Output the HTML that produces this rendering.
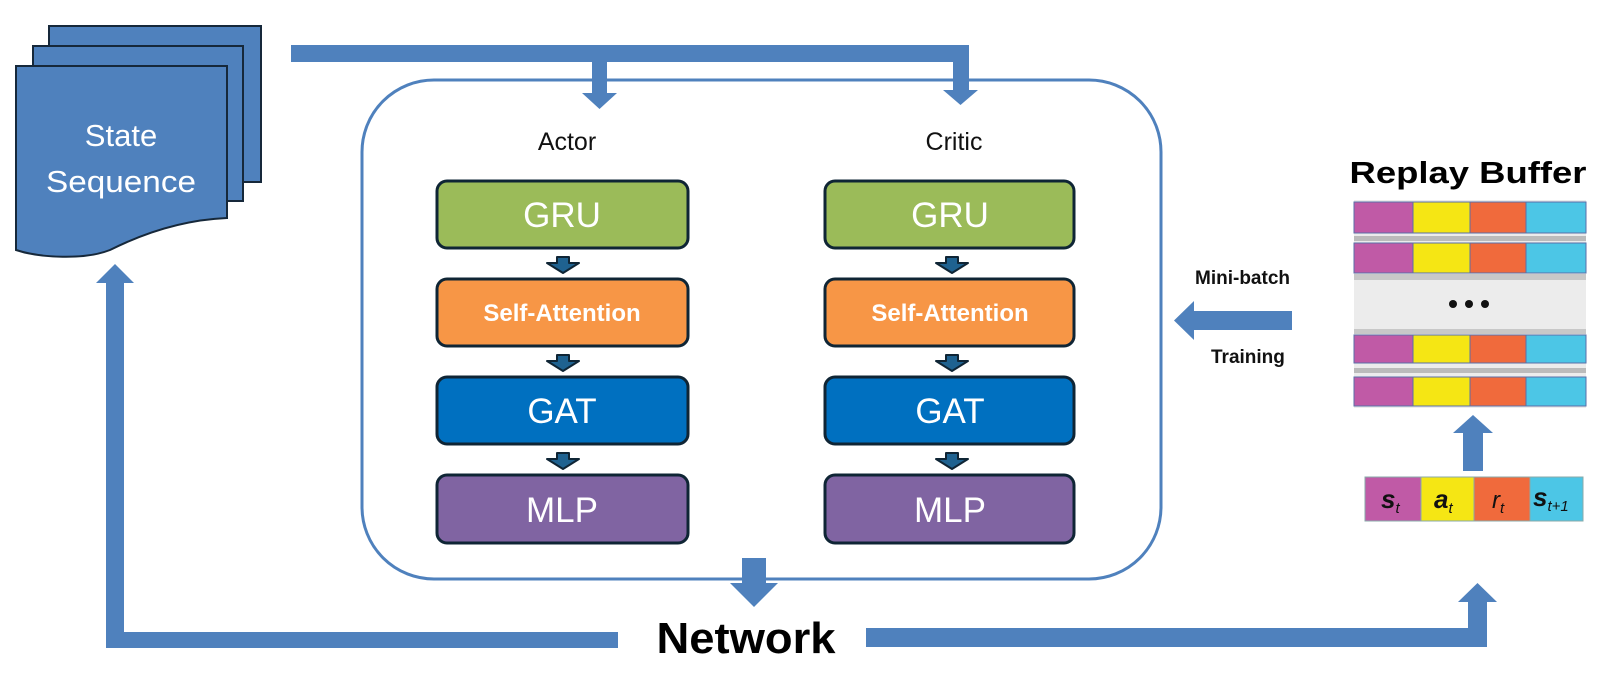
<!DOCTYPE html>
<html><head><meta charset="utf-8"><style>
html,body{margin:0;padding:0;background:#fff;}
svg{display:block;}
text{font-family:"Liberation Sans",sans-serif;}
</style></head><body>
<svg width="1622" height="689" viewBox="0 0 1622 689" xmlns="http://www.w3.org/2000/svg">
<!-- State sequence pages -->
<g fill="#4f81bd" stroke="#16283a" stroke-width="2">
<rect x="49" y="26" width="212" height="156"/>
<rect x="33" y="46" width="210" height="155"/>
<path d="M16 66 H227 V218 C180 220 140 235 110 250 C85 260 40 258 16 250 Z"/>
</g>
<text x="121" y="146" font-size="31" fill="#fff" text-anchor="middle">State</text>
<text x="121" y="192" font-size="31" fill="#fff" text-anchor="middle" textLength="150" lengthAdjust="spacingAndGlyphs">Sequence</text>

<!-- top connector -->
<g fill="#4f81bd">
<rect x="291" y="45" width="678" height="17"/>
<rect x="592" y="55" width="15" height="39"/>
<polygon points="582,93 617,93 599.5,109"/>
<rect x="953" y="55" width="16" height="36"/>
<polygon points="943,90 978,90 960.5,105"/>
</g>

<!-- container -->
<rect x="362" y="80" width="799" height="499" rx="72" ry="72" fill="none" stroke="#4f81bd" stroke-width="3"/>

<text x="567" y="150" font-size="25" fill="#111" text-anchor="middle">Actor</text>
<text x="954" y="150" font-size="25" fill="#111" text-anchor="middle">Critic</text>

<!-- boxes -->
<g stroke="#0f2535" stroke-width="3">
<rect x="437" y="181" width="251" height="67" rx="10" fill="#9bbb59"/>
<rect x="437" y="279" width="251" height="67" rx="10" fill="#f79646"/>
<rect x="437" y="377" width="251" height="67" rx="10" fill="#0070c0"/>
<rect x="437" y="475" width="251" height="68" rx="10" fill="#8064a2"/>
<rect x="825" y="181" width="249" height="67" rx="10" fill="#9bbb59"/>
<rect x="825" y="279" width="249" height="67" rx="10" fill="#f79646"/>
<rect x="825" y="377" width="249" height="67" rx="10" fill="#0070c0"/>
<rect x="825" y="475" width="249" height="68" rx="10" fill="#8064a2"/>
</g>
<g fill="#fff" text-anchor="middle">
<text x="562" y="227" font-size="35">GRU</text>
<text x="562" y="321" font-size="24" font-weight="bold">Self-Attention</text>
<text x="562" y="423" font-size="35">GAT</text>
<text x="562" y="522" font-size="35">MLP</text>
<text x="950" y="227" font-size="35">GRU</text>
<text x="950" y="321" font-size="24" font-weight="bold">Self-Attention</text>
<text x="950" y="423" font-size="35">GAT</text>
<text x="950" y="522" font-size="35">MLP</text>
</g>
<!-- small arrows -->
<g fill="#1f6290" stroke="#0f2535" stroke-width="2" stroke-linejoin="round">
<path d="M557 257 H569 V263 H579 L563 273 L547 263 H557 Z"/>
<path d="M557 355 H569 V361 H579 L563 371 L547 361 H557 Z"/>
<path d="M557 453 H569 V459 H579 L563 469 L547 459 H557 Z"/>
<path d="M946 257 H958 V263 H968 L952 273 L936 263 H946 Z"/>
<path d="M946 355 H958 V361 H968 L952 371 L936 361 H946 Z"/>
<path d="M946 453 H958 V459 H968 L952 469 L936 459 H946 Z"/>
</g>

<!-- bottom down arrow -->
<g fill="#4f81bd">
<rect x="742" y="558" width="24" height="26"/>
<polygon points="730,583 778,583 754,607"/>
</g>
<text x="746" y="653" font-size="44" font-weight="bold" fill="#000" text-anchor="middle" textLength="179" lengthAdjust="spacingAndGlyphs">Network</text>

<!-- left return -->
<g fill="#4f81bd">
<rect x="106" y="632" width="512" height="16"/>
<rect x="106" y="282" width="18" height="366"/>
<polygon points="96,283 134,283 115,264"/>
<!-- right path -->
<rect x="866" y="628" width="621" height="19"/>
<rect x="1468" y="600" width="19" height="47"/>
<polygon points="1458,602 1497,602 1477.5,583"/>
<!-- mini-batch arrow -->
<rect x="1192" y="311" width="100" height="19"/>
<polygon points="1194,301 1194,340 1174,320.5"/>
<!-- buffer up arrow -->
<rect x="1463" y="432" width="20" height="39"/>
<polygon points="1453,433 1493,433 1473,415"/>
</g>
<text x="1195" y="284" font-size="19" font-weight="bold" fill="#111">Mini-batch</text>
<text x="1211" y="363" font-size="19" font-weight="bold" fill="#111">Training</text>

<!-- replay buffer -->
<text x="1468" y="183" font-size="31" font-weight="bold" fill="#000" text-anchor="middle" textLength="237" lengthAdjust="spacingAndGlyphs">Replay Buffer</text>
<rect x="1354" y="200" width="232" height="208" fill="#ececec"/>
<rect x="1354" y="236" width="232" height="5" fill="#bbb"/>
<rect x="1354" y="274" width="232" height="6" fill="#c8c8c8"/>
<rect x="1354" y="329" width="232" height="5" fill="#c8c8c8"/>
<rect x="1354" y="368" width="232" height="5" fill="#bbb"/>
<g stroke="#5a6fa8" stroke-width="1">
<g transform="translate(0,202)">
<rect x="1354" y="0" width="59" height="31" fill="#c05aa6"/><rect x="1413" y="0" width="57" height="31" fill="#f5e614"/><rect x="1470" y="0" width="56" height="31" fill="#f06a3c"/><rect x="1526" y="0" width="60" height="31" fill="#4cc6e6"/>
</g>
<g transform="translate(0,243)">
<rect x="1354" y="0" width="59" height="30" fill="#c05aa6"/><rect x="1413" y="0" width="57" height="30" fill="#f5e614"/><rect x="1470" y="0" width="56" height="30" fill="#f06a3c"/><rect x="1526" y="0" width="60" height="30" fill="#4cc6e6"/>
</g>
<g transform="translate(0,335)">
<rect x="1354" y="0" width="59" height="28" fill="#c05aa6"/><rect x="1413" y="0" width="57" height="28" fill="#f5e614"/><rect x="1470" y="0" width="56" height="28" fill="#f06a3c"/><rect x="1526" y="0" width="60" height="28" fill="#4cc6e6"/>
</g>
<g transform="translate(0,377)">
<rect x="1354" y="0" width="59" height="29" fill="#c05aa6"/><rect x="1413" y="0" width="57" height="29" fill="#f5e614"/><rect x="1470" y="0" width="56" height="29" fill="#f06a3c"/><rect x="1526" y="0" width="60" height="29" fill="#4cc6e6"/>
</g>
</g>
<g fill="#111"><circle cx="1453" cy="304" r="4"/><circle cx="1469" cy="304" r="4"/><circle cx="1485" cy="304" r="4"/></g>

<!-- sequence bar -->
<g stroke="#8aa" stroke-width="1">
<rect x="1365" y="477" width="56" height="44" fill="#c05aa6"/>
<rect x="1421" y="477" width="53" height="44" fill="#f5e614"/>
<rect x="1474" y="477" width="56" height="44" fill="#f06a3c"/>
<rect x="1530" y="477" width="53" height="44" fill="#4cc6e6"/>
</g>
<g font-family="Liberation Serif,serif" font-style="italic" font-weight="bold" fill="#111">
<text x="1381" y="508" font-size="26">s<tspan font-size="15" dy="5" font-weight="normal">t</tspan></text>
<text x="1434" y="508" font-size="26">a<tspan font-size="15" dy="5" font-weight="normal">t</tspan></text>
<text x="1492" y="508" font-size="24" font-weight="normal">r<tspan font-size="15" dy="5">t</tspan></text>
<text x="1533" y="506" font-size="26">s<tspan font-size="15" dy="5" font-weight="normal">t+1</tspan></text>
</g>
</svg>
</body></html>
